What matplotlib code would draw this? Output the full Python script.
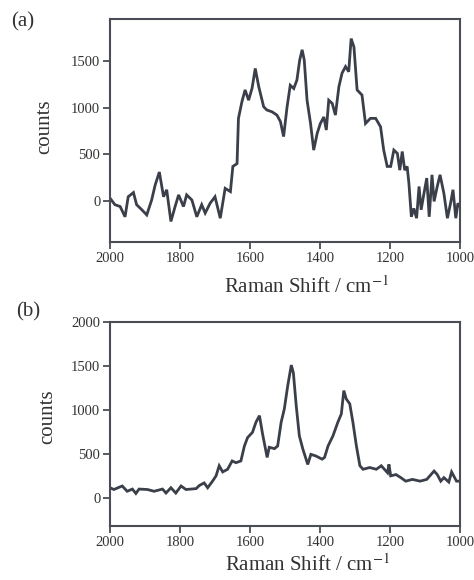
import numpy as np
import matplotlib
matplotlib.use('Agg')
import matplotlib.pyplot as plt

plt.rcParams['font.family'] = ['Liberation Serif', 'DejaVu Serif']
plt.rcParams['mathtext.fontset'] = 'stix'

# (a) spectrum
shift_a = [2000, 1986, 1971, 1957, 1948, 1933, 1924, 1909, 1895, 1881, 1871, 1859, 1847,
           1838, 1826, 1814, 1804, 1790, 1781, 1766, 1752, 1738, 1728, 1714, 1700, 1685,
           1671, 1656, 1649, 1637, 1633, 1623, 1614, 1604, 1594, 1585, 1575, 1561, 1552,
           1537, 1523, 1513, 1504, 1494, 1485, 1475, 1466, 1458, 1451, 1445, 1437, 1427,
           1418, 1408, 1399, 1389, 1382, 1375, 1365, 1356, 1346, 1337, 1327, 1318, 1311,
           1303, 1294, 1280, 1270, 1256, 1241, 1227, 1218, 1208, 1198, 1189, 1179, 1172,
           1165, 1158, 1151, 1146, 1139, 1132, 1124, 1117, 1111, 1103, 1095, 1088, 1080,
           1074, 1065, 1057, 1046, 1036, 1027, 1020, 1012, 1006, 1000]
counts_a = [30, -40, -60, -170, 45, 90, -40, -95, -150, 10, 170, 310, 45,
            120, -220, -60, 65, -60, 65, 10, -170, -40, -130, -25, 45, -185,
            135, 100, 370, 400, 885, 1065, 1190, 1080, 1210, 1420, 1225, 1010, 975,
            955, 920, 850, 690, 1010, 1240, 1205, 1295, 1510, 1620, 1510, 1080, 830,
            545, 725, 830, 900, 760, 1080, 1045, 920, 1225, 1370, 1440, 1385, 1740,
            1650, 1190, 1135, 830, 885, 885, 795, 545, 370, 370, 545, 510, 330,
            530, 330, 370, 190, -170, -80, -185, 155, -95, 80, 245, -170, 280,
            -5, 155, 280, 80, -185, -25, 120, -185, -25, -60]

# (b) spectrum
shift_b = [2000, 1989, 1965, 1951, 1936, 1926, 1917, 1893, 1874, 1850, 1840, 1826, 1812,
           1797, 1783, 1754, 1745, 1731, 1721, 1707, 1697, 1688, 1678, 1664, 1651, 1640,
           1626, 1616, 1607, 1593, 1583, 1573, 1564, 1551, 1545, 1530, 1521, 1511, 1502,
           1492, 1482, 1476, 1468, 1459, 1449, 1435, 1426, 1411, 1394, 1387, 1377, 1363,
           1349, 1339, 1332, 1325, 1315, 1306, 1296, 1286, 1277, 1258, 1239, 1225, 1207,
           1203, 1198, 1183, 1169, 1155, 1136, 1114, 1095, 1074, 1065, 1055, 1046, 1032,
           1024, 1010, 1000]
counts_b = [115, 95, 135, 75, 100, 50, 100, 95, 75, 100, 55, 115, 55,
            135, 95, 105, 140, 170, 115, 190, 250, 365, 295, 325, 420, 400,
            420, 590, 685, 745, 860, 935, 725, 460, 575, 560, 590, 860, 1010,
            1280, 1510, 1420, 1050, 705, 555, 380, 495, 475, 440, 460, 590, 705,
            860, 955, 1220, 1125, 1070, 860, 590, 365, 325, 345, 325, 365, 285,
            380, 250, 265, 230, 190, 210, 190, 210, 305, 265, 190, 230, 180,
            295, 190, 190]

line_col = '#3b3f4a'
frame_col = '#4a4d55'

fig = plt.figure(figsize=(4.74, 5.8), dpi=100)
ax_a = fig.add_axes([110/474, 1 - 242/580, 350/474, 223/580])
ax_b = fig.add_axes([110/474, 1 - 526/580, 350/474, 204/580])

panels = [
    (ax_a, shift_a, counts_a, (-440, 1950), [0, 500, 1000, 1500]),
    (ax_b, shift_b, counts_b, (-320, 2000), [0, 500, 1000, 1500, 2000]),
]
for ax, x, y, ylim, yt in panels:
    ax.plot(x, y, color=line_col, lw=2.0, solid_joinstyle='miter')
    ax.set_xlim(2000, 1000)
    ax.set_ylim(*ylim)
    ax.set_xticks([2000, 1800, 1600, 1400, 1200, 1000])
    ax.set_yticks(yt)
    ax.tick_params(direction='out', length=5, width=1.3, color=frame_col,
                   labelsize=10.5, labelcolor='#333333', pad=2)
    for s in ax.spines.values():
        s.set_linewidth(1.5)
        s.set_color(frame_col)

fig.text(23/474, 1 - 22/580, '(a)', fontsize=15, ha='center', va='center', color='#333333')
fig.text(28/474, 1 - 312/580, '(b)', fontsize=15, ha='center', va='center', color='#333333')
fig.text(45/474, 1 - 127/580, 'counts', fontsize=15, rotation=90, ha='center', va='center', color='#333333')
fig.text(48/474, 1 - 417/580, 'counts', fontsize=15, rotation=90, ha='center', va='center', color='#333333')
fig.text(306/474, 1 - 287/580, 'Raman Shift / cm$^{-1}$', fontsize=15, ha='center', va='center', color='#333333')
fig.text(307/474, 1 - 565/580, 'Raman Shift / cm$^{-1}$', fontsize=15, ha='center', va='center', color='#333333')

fig.savefig('out.png', dpi=100, facecolor='white')
